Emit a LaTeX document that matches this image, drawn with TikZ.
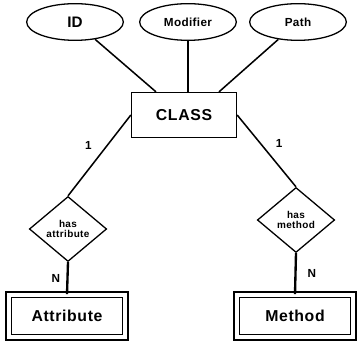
\documentclass[tikz,border=0pt]{standalone}
\usepackage{fontspec}
\setmainfont{Liberation Sans}
\usepackage{tikz}
\usetikzlibrary{shapes.geometric, positioning}

\begin{document}
\begin{tikzpicture}[
    x=0.03cm, y=0.03cm,
    attr/.style={draw, ellipse, line width=1.1pt, minimum width=2.9cm, minimum height=1.1cm, inner sep=0pt},
    entity/.style={draw, line width=1.1pt, minimum width=3.15cm, minimum height=1.35cm, inner sep=0pt, font=\fontsize{13.5}{15}\selectfont\bfseries\addfontfeature{LetterSpace=4}},
    weak/.style={draw, line width=1pt, double, double distance=3.5pt, minimum width=3.5cm, minimum height=1.28cm, inner sep=0pt, font=\fontsize{13.5}{15}\selectfont\bfseries\addfontfeature{LetterSpace=4}},
    rel/.style={draw, diamond, line width=1.1pt, minimum width=2.32cm, minimum height=1.95cm, inner sep=0pt, align=center, font=\fontsize{8.5}{9.5}\selectfont\bfseries\addfontfeature{LetterSpace=4}},
    link/.style={line width=1.3pt},
    card/.style={font=\fontsize{10}{11}\selectfont\bfseries}
]
\useasboundingbox (0,0) rectangle (360,341);

% attributes
\node[attr, font=\fontsize{13}{15}\selectfont\bfseries] (id) at (75,319) {ID};
\node[attr, font=\fontsize{10}{11}\selectfont\bfseries\addfontfeature{LetterSpace=3}] (mod) at (188,319) {Modifier};
\node[attr, font=\fontsize{10}{11}\selectfont\bfseries\addfontfeature{LetterSpace=3}] (path) at (298,319) {Path};

% entity
\node[entity] (cls) at (184,226) {CLASS};

\draw[link] (id) -- (cls.north west -| 156,0);
\draw[link] (mod) -- (mod |- cls.north);
\draw[link] (path) -- (cls.north east -| 219,0);

% relationships
\node[rel] (hasattr) at (68,112) {has\\[-1pt]attribute};
\node[rel] (hasmeth) at (296,121) {has\\[-1pt]method};

\draw[link] (cls.west) -- node[card, pos=0.38, left=9pt] (c1) {1} (hasattr.north);
\draw[link] (cls.east) -- node[card, pos=0.4, right=9pt] (c2) {1} (hasmeth.north);

% weak entities
\node[weak] (attrib) at (67,25) {Attribute};
\node[weak] (meth) at (295,25) {Method};

\draw[line width=2pt] (hasattr.south) -- node[card, left=2pt] (n1) {N} (attrib.north);
\draw[line width=2pt] (hasmeth.south) -- node[card, right=6pt] (n2) {N} (meth.north);

\end{tikzpicture}
\end{document}
